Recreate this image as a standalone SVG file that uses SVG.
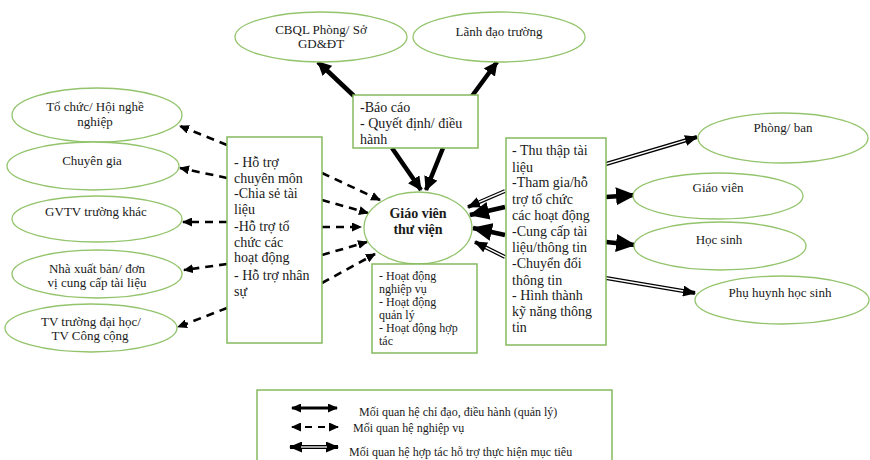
<svg xmlns="http://www.w3.org/2000/svg" width="870" height="460" viewBox="0 0 870 460">
<style>
.el{fill:#fff;stroke:#93c46c;stroke-width:1.3}
.bx{fill:#fff;stroke:#86ba5e;stroke-width:1.5}
text{font-family:"Liberation Serif","Times New Roman",serif;fill:#1a1a1a}
.et{font-size:13px;text-anchor:middle}
.bt{font-size:14px}
.st{font-size:12px}
.lt{font-size:12px}
.solid{fill:none;stroke:#000;stroke-width:4.5;marker-end:url(#hs)}
.thick{fill:none;stroke:#000;stroke-width:4.5;marker-end:url(#hb)}
.dash{fill:none;stroke:#000;stroke-width:2.6;stroke-dasharray:8 6;marker-end:url(#hd)}
.dbl{fill:none;stroke:#000;stroke-width:4;marker-end:url(#hm)}
.dblw{fill:none;stroke:#fff;stroke-width:1.4}
</style>
<defs>
<marker id="hs" markerUnits="userSpaceOnUse" markerWidth="14" markerHeight="14" refX="13" refY="7" orient="auto-start-reverse"><path d="M0,0 L14,7 L0,14 z" fill="#000"/></marker>
<marker id="hb" markerUnits="userSpaceOnUse" markerWidth="20" markerHeight="18" refX="19" refY="9" orient="auto-start-reverse"><path d="M0,0 L20,9 L0,18 z" fill="#000"/></marker>
<marker id="hd" markerUnits="userSpaceOnUse" markerWidth="10" markerHeight="9" refX="9" refY="4.5" orient="auto-start-reverse"><path d="M0,0 L10,4.5 L0,9 z" fill="#000"/></marker>
<marker id="hm" markerUnits="userSpaceOnUse" markerWidth="13" markerHeight="11" refX="12" refY="5.5" orient="auto-start-reverse"><path d="M0,0 L13,5.5 L0,11 z" fill="#000"/></marker>
</defs>

<g id="connectors">
<line class="solid" x1="354" y1="96" x2="318" y2="62"/>
<line class="solid" x1="472" y1="96" x2="497" y2="62"/>
<line class="solid" x1="392" y1="148" x2="421" y2="190"/>
<line class="solid" x1="443" y1="148" x2="426" y2="190"/>
<line class="dash" x1="227" y1="145" x2="180" y2="126"/>
<line class="dash" x1="227" y1="178" x2="180" y2="168"/>
<line class="dash" x1="227" y1="222" x2="183" y2="222"/>
<line class="dash" x1="227" y1="264" x2="184" y2="270"/>
<line class="dash" x1="227" y1="308" x2="178" y2="327"/>
<line class="dash" x1="322" y1="173" x2="380" y2="200"/>
<line class="dash" x1="322" y1="200" x2="368" y2="213"/>
<line class="dash" x1="322" y1="227" x2="361" y2="227"/>
<line class="dash" x1="322" y1="255" x2="367" y2="242"/>
<line class="dash" x1="322" y1="283" x2="375" y2="254"/>
<line class="dbl" x1="505" y1="191" x2="468" y2="207"/>
<line class="dblw" x1="505" y1="191" x2="479" y2="202.2"/>
<line class="thick" x1="505" y1="207" x2="470" y2="215"/>
<line class="thick" x1="505" y1="235" x2="473" y2="228"/>
<line class="dbl" x1="505" y1="257" x2="475" y2="242"/>
<line class="dblw" x1="505" y1="257" x2="485.7" y2="247.4"/>
<line class="dbl" x1="606" y1="164" x2="697" y2="137"/>
<line class="dblw" x1="606" y1="164" x2="685.5" y2="140.4"/>
<line class="thick" x1="606" y1="197" x2="635" y2="195"/>
<line class="thick" x1="606" y1="242" x2="635" y2="245"/>
<line class="dbl" x1="606" y1="278" x2="695" y2="293"/>
<line class="dblw" x1="606" y1="278" x2="683.2" y2="291"/>
</g>

<g id="n-cbql"><ellipse class="el" cx="321" cy="37" rx="86" ry="25"/><text class="et" x="321" y="34">CBQL Phòng/ Sở</text><text class="et" x="321" y="48">GD&amp;ĐT</text></g>
<g id="n-lanhdao"><ellipse class="el" cx="499" cy="37" rx="86" ry="25"/><text class="et" x="499" y="36">Lãnh đạo trường</text></g>

<g id="n-tochuc"><ellipse class="el" cx="97" cy="115" rx="85" ry="27"/><text class="et" x="95" y="111">Tổ chức/ Hội nghề</text><text class="et" x="95" y="126">nghiệp</text></g>
<g id="n-chuyengia"><ellipse class="el" cx="93" cy="166" rx="86" ry="24"/><text class="et" x="92" y="165">Chuyên gia</text></g>
<g id="n-gvtv"><ellipse class="el" cx="97" cy="219" rx="85" ry="23"/><text class="et" x="96" y="216">GVTV trường khác</text></g>
<g id="n-nxb"><ellipse class="el" cx="97" cy="274" rx="85" ry="24"/><text class="et" x="97" y="273">Nhà xuất bản/ đơn</text><text class="et" x="97" y="287">vị cung cấp tài liệu</text></g>
<g id="n-tvdh"><ellipse class="el" cx="91" cy="328" rx="86" ry="24"/><text class="et" x="91" y="326">TV trường đại học/</text><text class="et" x="90" y="340">TV Công cộng</text></g>

<g id="n-leftbox"><rect class="bx" x="227" y="137" width="95" height="206"/>
<text class="bt" x="234" y="167">- Hỗ trợ</text>
<text class="bt" x="234" y="183">chuyên môn</text>
<text class="bt" x="234" y="198">-Chia sẻ tài</text>
<text class="bt" x="234" y="214">liệu</text>
<text class="bt" x="234" y="231">-Hỗ trợ tổ</text>
<text class="bt" x="234" y="247">chức các</text>
<text class="bt" x="234" y="262">hoạt động</text>
<text class="bt" x="234" y="280">- Hỗ trợ nhân</text>
<text class="bt" x="234" y="296">sự</text></g>

<g id="n-topbox"><rect class="bx" x="353" y="95" width="125" height="53"/>
<text class="bt" x="360" y="112">-Báo cáo</text>
<text class="bt" x="360" y="128">- Quyết định/ điều</text>
<text class="bt" x="360" y="144">hành</text></g>

<g id="n-center"><ellipse class="el" cx="418" cy="228" rx="54" ry="36"/>
<text class="et" x="418" y="218" style="font-size:14px;font-weight:bold">Giáo viên</text>
<text class="et" x="418" y="234" style="font-size:14px;font-weight:bold">thư viện</text></g>

<g id="n-bottombox"><rect class="bx" x="372" y="264" width="105" height="89"/>
<text class="st" x="379" y="280">- Hoạt động</text>
<text class="st" x="379" y="293">nghiệp vụ</text>
<text class="st" x="379" y="306">- Hoạt động</text>
<text class="st" x="379" y="319">quản lý</text>
<text class="st" x="379" y="332">- Hoạt động hợp</text>
<text class="st" x="379" y="345">tác</text></g>

<g id="n-rightbox"><rect class="bx" x="506" y="138" width="100" height="207"/>
<text class="bt" x="512" y="155">- Thu thập tài</text>
<text class="bt" x="512" y="172">liệu</text>
<text class="bt" x="512" y="187">-Tham gia/hỗ</text>
<text class="bt" x="512" y="204">trợ tổ chức</text>
<text class="bt" x="512" y="220">các hoạt động</text>
<text class="bt" x="512" y="236">-Cung cấp tài</text>
<text class="bt" x="512" y="252">liệu/thông tin</text>
<text class="bt" x="512" y="268">-Chuyển đổi</text>
<text class="bt" x="512" y="285">thông tin</text>
<text class="bt" x="512" y="300">- Hình thành</text>
<text class="bt" x="512" y="316">kỹ năng thông</text>
<text class="bt" x="512" y="332">tin</text></g>

<g id="n-phongban"><ellipse class="el" cx="783" cy="138" rx="85" ry="25"/><text class="et" x="783" y="132">Phòng/ ban</text></g>
<g id="n-giaovien"><ellipse class="el" cx="718" cy="196" rx="85" ry="23"/><text class="et" x="718" y="192">Giáo viên</text></g>
<g id="n-hocsinh"><ellipse class="el" cx="720" cy="246" rx="86" ry="24"/><text class="et" x="719" y="244">Học sinh</text></g>
<g id="n-phuhuynh"><ellipse class="el" cx="782" cy="300" rx="87" ry="24"/><text class="et" x="780" y="297">Phụ huynh học sinh</text></g>

<g id="legend"><rect class="bx" x="257" y="390" width="355" height="80"/>
<line x1="292" y1="408" x2="337" y2="408" stroke="#000" stroke-width="3" marker-start="url(#hd)" marker-end="url(#hd)"/>
<line x1="292" y1="427" x2="338" y2="427" stroke="#000" stroke-width="2" stroke-dasharray="7 6" marker-start="url(#hd)" marker-end="url(#hd)"/>
<line x1="290" y1="447" x2="338" y2="447" stroke="#000" stroke-width="4" marker-start="url(#hm)" marker-end="url(#hm)"/>
<line x1="301" y1="447" x2="327" y2="447" stroke="#fff" stroke-width="1.3"/>
<text class="lt" x="359" y="416">Mối quan hệ chỉ đạo, điều hành (quản lý)</text>
<text class="lt" x="353" y="432">Mối quan hệ nghiệp vụ</text>
<text class="lt" x="349" y="456">Mối quan hệ hợp tác hỗ trợ thực hiện mục tiêu</text></g>
</svg>
